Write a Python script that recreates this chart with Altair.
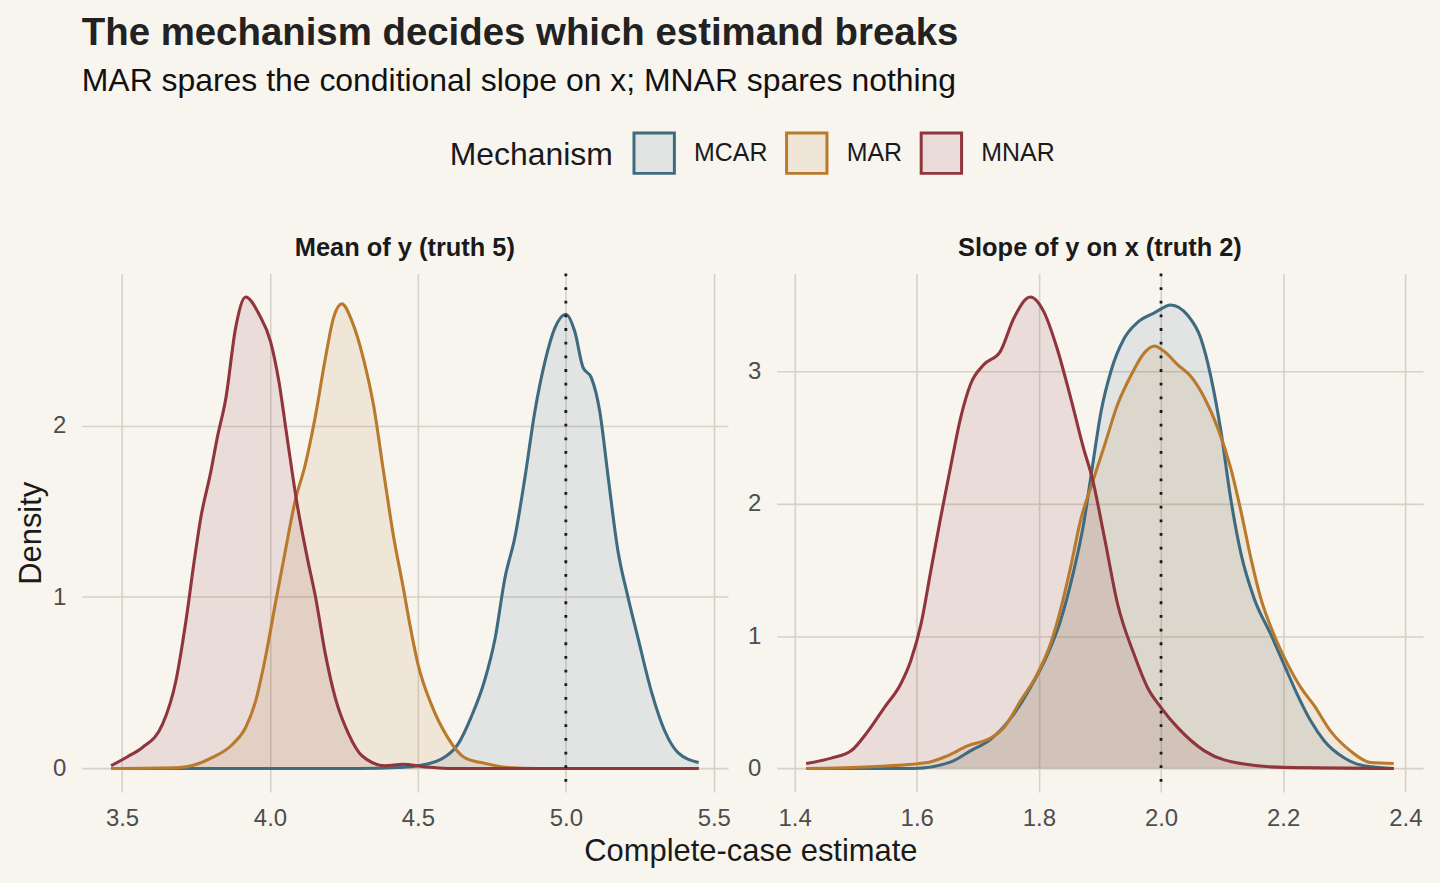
import altair as alt
import pandas as pd

MECHANISMS = ["MCAR", "MAR", "MNAR"]
STROKES = ["#3F6B80", "#B97A2E", "#8F353B"]
FILLS = ["rgba(63,107,128,0.12)", "rgba(185,122,46,0.12)", "rgba(143,53,59,0.12)"]

# ---- Panel 1: Mean of y (truth 5) ----
mean_mcar_x = [3.463, 4.30, 4.434, 4.50, 4.579, 4.635, 4.680, 4.725, 4.761, 4.794, 4.828, 4.862,
               4.895, 4.929, 4.963, 5.00, 5.03, 5.058, 5.086, 5.115, 5.143, 5.176, 5.21, 5.244,
               5.289, 5.334, 5.379, 5.449]
mean_mcar_d = [0.0, 0.0, 0.006, 0.016, 0.054, 0.14, 0.30, 0.51, 0.76, 1.11, 1.35, 1.70,
               2.08, 2.37, 2.57, 2.65, 2.55, 2.34, 2.28, 2.08, 1.70, 1.27, 1.00, 0.76,
               0.45, 0.22, 0.093, 0.035]

mean_mar_x = [3.463, 3.694, 3.806, 3.873, 3.918, 3.951, 3.985, 4.018, 4.052, 4.085, 4.119, 4.153,
              4.187, 4.215, 4.243, 4.277, 4.316, 4.350, 4.384, 4.418, 4.451, 4.475, 4.50, 4.545,
              4.601, 4.657, 4.725, 4.803, 4.90, 5.449]
mean_mar_d = [0.0, 0.006, 0.064, 0.14, 0.24, 0.39, 0.65, 0.96, 1.27, 1.56, 1.77, 2.05,
              2.39, 2.63, 2.71, 2.61, 2.39, 2.12, 1.73, 1.35, 1.05, 0.82, 0.61, 0.375,
              0.18, 0.064, 0.03, 0.006, 0.0, 0.0]

mean_mnar_x = [3.463, 3.52, 3.569, 3.637, 3.682, 3.716, 3.744, 3.766, 3.80, 3.822, 3.851, 3.884,
               3.918, 3.963, 4.002, 4.030, 4.058, 4.092, 4.126, 4.154, 4.187, 4.221, 4.266, 4.311,
               4.389, 4.45, 4.52, 4.60, 5.449]
mean_mnar_d = [0.016, 0.07, 0.122, 0.258, 0.51, 0.86, 1.21, 1.46, 1.73, 1.93, 2.16, 2.57,
               2.75, 2.65, 2.49, 2.26, 1.93, 1.54, 1.23, 1.00, 0.67, 0.41, 0.20, 0.074,
               0.016, 0.025, 0.01, 0.0, 0.0]

# ---- Panel 2: Slope of y on x (truth 2) ----
slope_mcar_x = [1.419, 1.596, 1.656, 1.688, 1.721, 1.754, 1.786, 1.814, 1.835, 1.857, 1.873, 1.887,
                1.902, 1.918, 1.940, 1.962, 1.989, 2.016, 2.044, 2.065, 2.082, 2.098, 2.114, 2.131,
                2.152, 2.180, 2.201, 2.223, 2.245, 2.267, 2.299, 2.332, 2.381]
slope_mcar_d = [0.0, 0.0, 0.05, 0.133, 0.22, 0.38, 0.61, 0.86, 1.11, 1.49, 1.84, 2.26,
                2.70, 3.00, 3.25, 3.37, 3.44, 3.50, 3.42, 3.25, 2.95, 2.55, 2.04, 1.62,
                1.29, 1.01, 0.79, 0.56, 0.36, 0.21, 0.083, 0.02, 0.0]

slope_mar_x = [1.419, 1.525, 1.618, 1.650, 1.683, 1.721, 1.743, 1.770, 1.797, 1.819, 1.835, 1.852,
               1.868, 1.887, 1.9075, 1.929, 1.951, 1.973, 1.989, 2.005, 2.027, 2.049, 2.071, 2.093,
               2.114, 2.131, 2.147, 2.163, 2.185, 2.207, 2.229, 2.250, 2.278, 2.310, 2.343, 2.381]
slope_mar_d = [0.0, 0.013, 0.045, 0.095, 0.17, 0.23, 0.31, 0.51, 0.71, 0.94, 1.19, 1.52,
               1.87, 2.15, 2.44, 2.75, 2.97, 3.14, 3.19, 3.15, 3.05, 2.96, 2.80, 2.57,
               2.27, 1.94, 1.59, 1.29, 1.01, 0.79, 0.61, 0.48, 0.28, 0.133, 0.045, 0.038]

slope_mnar_x = [1.419, 1.460, 1.4925, 1.520, 1.547, 1.574, 1.590, 1.607, 1.623, 1.639, 1.656, 1.672,
                1.688, 1.710, 1.737, 1.759, 1.786, 1.808, 1.830, 1.852, 1.873, 1.887, 1.9075, 1.929,
                1.956, 1.978, 2.000, 2.027, 2.071, 2.136, 2.200, 2.381]
slope_mnar_d = [0.038, 0.078, 0.133, 0.28, 0.46, 0.64, 0.81, 1.09, 1.49, 1.89, 2.29, 2.65,
                2.90, 3.05, 3.15, 3.40, 3.56, 3.45, 3.17, 2.80, 2.42, 2.20, 1.74, 1.24,
                0.86, 0.61, 0.46, 0.31, 0.133, 0.033, 0.008, 0.0]

MEAN_TICKS = [3.5, 4.0, 4.5, 5.0, 5.5]
SLOPE_TICKS = [1.4, 1.6, 1.8, 2.0, 2.2, 2.4]
MEAN_YTICKS = [0, 1, 2]
SLOPE_YTICKS = [0, 1, 2, 3]


def long(xs, ds, mech):
    return pd.DataFrame({"est": xs, "density": ds, "mech": mech, "base": 0.0})


mean_df = pd.concat([long(mean_mcar_x, mean_mcar_d, "MCAR"),
                     long(mean_mar_x, mean_mar_d, "MAR"),
                     long(mean_mnar_x, mean_mnar_d, "MNAR")], ignore_index=True)
slope_df = pd.concat([long(slope_mcar_x, slope_mcar_d, "MCAR"),
                      long(slope_mar_x, slope_mar_d, "MAR"),
                      long(slope_mnar_x, slope_mnar_d, "MNAR")], ignore_index=True)

FONT = "Liberation Sans"
stroke_scale = alt.Scale(domain=MECHANISMS, range=STROKES)
fill_scale = alt.Scale(domain=MECHANISMS, range=FILLS)

legend = alt.Legend(
    title="Mechanism", orient="none", legendX=369, legendY=-143,
    direction="horizontal", titleOrient="left", symbolType="square",
    symbolSize=1640, symbolStrokeWidth=3, labelFontSize=25, titleFontSize=32,
    titleFontWeight="normal", titleColor="#1a1a1a", labelColor="#1a1a1a",
    labelFont=FONT, titleFont=FONT, labelOffset=18, columnPadding=12,
    titlePadding=19, titleBaseline="middle", titleAnchor="middle",
)


def panel(df, xdom, ydom, xticks, yticks, truth, title, first):
    xaxis_kw = dict(values=xticks, format=".1f")
    yaxis_kw = dict(values=yticks, format="d")
    if first:
        xaxis_kw.update(title="Complete-case estimate", titleX=670.5)
        yaxis_kw.update(title="Density")
    else:
        xaxis_kw.update(title=None)
        yaxis_kw.update(title=None)
    x = alt.X("est:Q", scale=alt.Scale(domain=xdom, nice=False, zero=False), axis=alt.Axis(**xaxis_kw))
    y = alt.Y("density:Q", scale=alt.Scale(domain=ydom, nice=False, zero=False),
              axis=alt.Axis(**yaxis_kw), stack=None)
    base = alt.Chart(df)
    area = base.mark_area(fillOpacity=1, strokeWidth=3, interpolate="monotone").encode(
        x=x, y=y, y2="base:Q",
        fill=alt.Fill("mech:N", scale=fill_scale, sort=MECHANISMS, legend=legend),
        stroke=alt.Stroke("mech:N", scale=stroke_scale, sort=MECHANISMS, legend=legend),
        strokeOpacity=alt.value(0),
    )
    line = base.mark_line(strokeWidth=3.1, interpolate="monotone").encode(
        x=x, y=y,
        stroke=alt.Stroke("mech:N", scale=stroke_scale, sort=MECHANISMS, legend=None),
    )
    rule = alt.Chart(pd.DataFrame({"truth": [truth]})).mark_rule(
        color="#1a1a1a", strokeWidth=2.8, strokeDash=[2.8, 10.9]
    ).encode(x="truth:Q")
    return alt.layer(area, line, rule).properties(
        width=648, height=520,
        title=alt.TitleParams(title, fontSize=25.5, fontWeight="bold", font=FONT,
                              color="#1a1a1a", anchor="middle", offset=11),
    )


left = panel(mean_df, [3.364, 5.548], [-0.1375, 2.8875], MEAN_TICKS, MEAN_YTICKS, 5.0,
             "Mean of y (truth 5)", True)
right = panel(slope_df, [1.371, 2.429], [-0.178, 3.738], SLOPE_TICKS, SLOPE_YTICKS, 2.0,
              "Slope of y on x (truth 2)", False)

chart = alt.hconcat(left, right, spacing=49, bounds="flush").properties(
    title=alt.TitleParams(
        "The mechanism decides which estimand breaks",
        subtitle="MAR spares the conditional slope on x; MNAR spares nothing",
        anchor="start", frame="group", fontSize=38.5, fontWeight="bold", font=FONT,
        color="#222222", subtitleFontSize=32, subtitleFont=FONT, subtitleColor="#111111",
        subtitlePadding=13, offset=33,
    ),
    background="#F8F5EF",
    padding={"left": 15, "right": 17, "top": 12, "bottom": 18},
).configure_view(stroke=None).configure_axis(
    grid=True, gridColor="#D6D1C6", gridWidth=1.6, domain=False, ticks=False,
    labelFont=FONT, labelFontSize=24, labelColor="#4D4D4D",
    titleFont=FONT, titleFontSize=31, titleFontWeight="normal", titleColor="#1a1a1a",
).configure_axisX(labelPadding=15, titlePadding=6).configure_axisY(labelPadding=16, titlePadding=5)

chart.save("out.html", embed_options={"renderer": "svg", "actions": False})
